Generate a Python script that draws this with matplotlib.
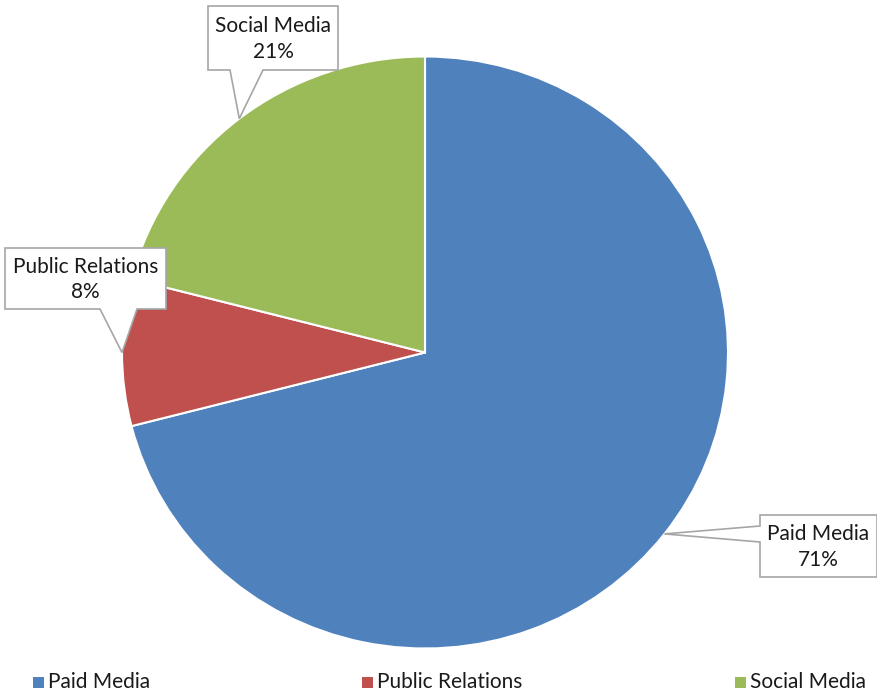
import numpy as np
import matplotlib
matplotlib.use("Agg")
import matplotlib.pyplot as plt
from matplotlib.patches import Polygon, Rectangle

labels = ["Paid Media", "Public Relations", "Social Media"]
shares = [71, 8, 21]
colors = ["#4F81BD", "#C0504D", "#9BBB59"]

plt.rcParams["font.family"] = ["Lato", "DejaVu Sans"]

W, H = 878, 698
fig = plt.figure(figsize=(W / 100, H / 100), dpi=100)

# pie axes, center (425, 352) px from top-left; the original is slightly squashed
cx, cy, rx, ry = 425, 352.5, 303, 296
ax = fig.add_axes([(cx - rx) / W, (H - cy - ry) / H, 2 * rx / W, 2 * ry / H])
wedges, _ = ax.pie(shares, colors=colors, startangle=90, counterclock=False,
                   wedgeprops=dict(edgecolor="white", linewidth=1.5))
ax.set_xlim(-1, 1)
ax.set_ylim(-1, 1)
ax.set_aspect("auto")
ax.axis("off")


def px(x, y):
    return (x / W, (H - y) / H)


# callout boxes: (left, top, right, bottom) in px, pointer side and base span
boxes = {
    "Social Media": ((208, 6, 338, 70), "bottom", (230, 263)),
    "Public Relations": ((5, 248, 166, 309), "bottom", (100, 137)),
    "Paid Media": ((760, 515, 877, 577), "left", (526, 542)),
}

fig.canvas.draw()
inv = fig.transFigure.inverted()
for w, lab, val in zip(wedges, labels, shares):
    mid = np.deg2rad((w.theta1 + w.theta2) / 2)
    tip = inv.transform(ax.transData.transform((np.cos(mid), np.sin(mid))))
    (l, t, rr, b), side, (s0, s1) = boxes[lab]
    if side == "bottom":
        pts = [px(l, t), px(rr, t), px(rr, b), px(s1, b), tuple(tip), px(s0, b), px(l, b)]
    else:
        pts = [px(l, t), px(rr, t), px(rr, b), px(l, b), px(l, s1), tuple(tip), px(l, s0)]
    fig.patches.append(Polygon(pts, closed=True, transform=fig.transFigure,
                               facecolor="white", edgecolor="#A6A6A6", linewidth=1.2))
    fig.text((l + rr) / 2 / W, 1 - ((t + b) / 2 + 1) / H, f"{lab}\n{val}%",
             ha="center", va="center", fontsize=15, color="#1A1A1A", linespacing=1.35)

# legend along the bottom
leg_x = [33, 362, 735]
for x, lab, c in zip(leg_x, labels, colors):
    fig.patches.append(Rectangle(px(x, 688), 11 / W, 11 / H, transform=fig.transFigure,
                                 facecolor=c, edgecolor="none"))
    fig.text((x + 15) / W, 1 - 682 / H, lab, ha="left", va="center",
             fontsize=15, color="#1A1A1A")

fig.savefig("out.png", dpi=100)
